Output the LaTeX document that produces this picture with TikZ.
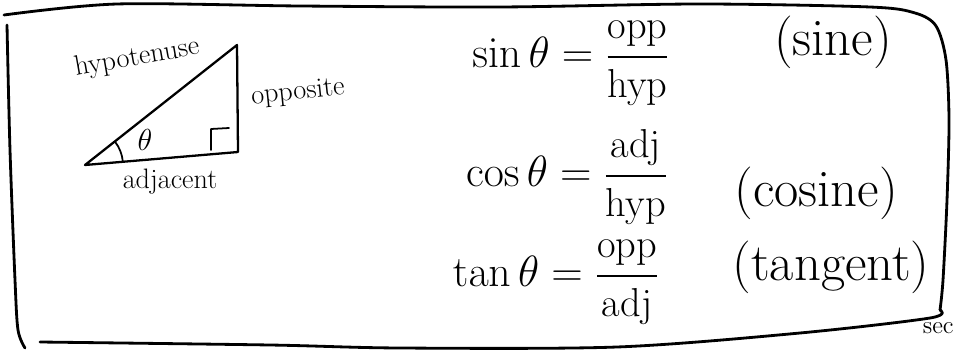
\documentclass[tikz,border=0pt]{standalone}
\usepackage{amsmath}
\usetikzlibrary{positioning}

\tikzset{
  frameline/.style={line width=1.6pt, line cap=round, line join=round},
  triline/.style={line width=1.3pt, line cap=round, line join=round},
  sidelabel/.style={font=\fontsize{16}{19}\selectfont, inner sep=0pt},
  ratio/.style={font=\fontsize{23}{27}\selectfont, inner sep=0pt},
  fname/.style={font=\fontsize{30}{34}\selectfont, inner sep=0pt},
}

\begin{document}
\begin{tikzpicture}[x=0.02cm,y=-0.02cm]
		\useasboundingbox (0,0) rectangle (955,351);
		
		% hand drawn frame
		\draw[frameline] plot[smooth] coordinates {(4,15) (117,4) (300,6) (500,7) (700,4) (870,7) (915,13) (936,26) (946,60) (949,120) (947,200) (943,280) (940,310)};
		\draw[frameline] plot[smooth] coordinates {(940,310) (930,318) (800,333) (617,347) (400,348) (270,345) (40,342)};
		\draw[frameline] plot[smooth] coordinates {(7,25) (10,150) (15,280) (18,330) (25,348)};
		
		% triangle
		\coordinate (A) at (85,165);
		\coordinate (B) at (238,152);
		\coordinate (C) at (237,45);
		\draw[triline] (A) -- (B) -- (C) -- cycle;
		\draw[triline,line width=1pt] (211,150) -- (211,129) -- (229,128);
		\draw[triline,line width=1pt] ([shift={(38:0.76cm)}]A) arc[start angle=38, end angle=5, radius=0.76cm];
		\node[font=\fontsize{16}{18}\selectfont] (theta) at (145,140) {$\theta$};
		
		\node[sidelabel,rotate=10] (hypo) at (137,58) {hypotenuse};
		\node[sidelabel,rotate=6] (oppo) at (298,93) {opposite};
		\node[sidelabel] (adja) at (170,182) {adjacent};
		
		% ratios
		\node[ratio] (sinrow) at (571,63) {$\sin\theta = \dfrac{\text{opp}}{\text{hyp}}$};
		\node[ratio] (cosrow) at (567,177) {$\cos\theta = \dfrac{\text{adj}}{\text{hyp}}$};
		\node[ratio] (tanrow) at (556,282) {$\tan\theta = \dfrac{\text{opp}}{\text{adj}}$};
		
		\node[fname] (sinname) at (833,42) {(sine)};
		\node[fname] (cosname) at (816,193) {(cosine)};
		\node[fname] (tanname) at (831,267) {(tangent)};
		
		\node[font=\fontsize{14}{16}\selectfont,inner sep=0pt,anchor=east] (secname) at (954,328) {sec};
		
	\end{tikzpicture}
\end{document}
